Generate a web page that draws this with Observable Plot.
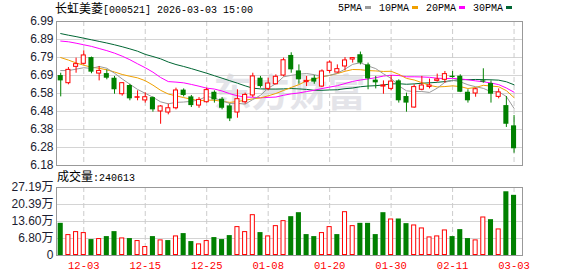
<!DOCTYPE html>
<html><head><meta charset="utf-8">
<script src="https://cdn.jsdelivr.net/npm/d3@7"></script>
<script src="https://cdn.jsdelivr.net/npm/@observablehq/plot@0.6"></script>
<style>
body{margin:0;background:#fff;}
#wrap{position:relative;width:578px;height:276px;overflow:hidden;font-family:"Liberation Sans",Arial,sans-serif;}
#wrap svg{position:absolute;left:0;}
.abs{position:absolute;white-space:nowrap;color:#000;}
.mono{font-family:"Liberation Mono","DejaVu Sans Mono",monospace;font-size:10px;}
.cjk{font-family:"Noto Sans CJK SC";font-size:12px;}
.sw{display:inline-block;width:6px;height:3px;margin-left:3px;margin-right:8px;vertical-align:middle;position:relative;top:-1px;}
</style></head><body><div id="wrap"></div>
<script>
const stockName = "长虹美菱";
const stockCode = "[000521]";
const stamp = "2026-03-03 15:00";
const volumeTitle = "成交量";
const lastVolume = "240613";
const watermark = "东方财富";

const dates = ["11-28","12-01","12-02","12-03","12-04","12-05","12-08","12-09","12-10","12-11",
"12-12","12-15","12-16","12-17","12-18","12-19","12-22","12-23","12-24","12-25",
"12-26","12-29","12-30","12-31","01-05","01-06","01-07","01-08","01-09","01-12",
"01-13","01-14","01-15","01-16","01-19","01-20","01-21","01-22","01-23","01-26",
"01-27","01-28","01-29","01-30","02-02","02-03","02-04","02-05","02-06","02-09",
"02-10","02-11","02-12","02-13","02-24","02-25","02-26","02-27","03-02","03-03"];
const labelDates = ["12-03","12-15","12-25","01-08","01-20","01-30","02-11","03-03"];

const open = [6.686,6.643,6.735,6.752,6.787,6.697,6.697,6.671,6.581,6.630,
6.561,6.546,6.562,6.484,6.478,6.502,6.604,6.566,6.517,6.536,
6.592,6.553,6.515,6.478,6.536,6.574,6.671,6.611,6.637,6.686,
6.799,6.712,6.649,6.671,6.624,6.712,6.703,6.737,6.776,6.803,
6.746,6.660,6.624,6.611,6.656,6.568,6.506,6.606,6.622,6.656,
6.662,6.682,6.682,6.592,6.585,6.656,6.641,6.566,6.517,6.403];
const high = [6.699,6.731,6.784,6.825,6.790,6.737,6.718,6.681,6.645,6.637,
6.600,6.589,6.566,6.517,6.525,6.615,6.611,6.574,6.562,6.615,
6.600,6.562,6.525,6.606,6.587,6.699,6.681,6.671,6.690,6.784,
6.814,6.746,6.681,6.686,6.718,6.769,6.746,6.787,6.787,6.818,
6.756,6.681,6.656,6.686,6.662,6.587,6.634,6.681,6.666,6.694,
6.709,6.709,6.690,6.606,6.615,6.724,6.656,6.611,6.568,6.461];
const low = [6.566,6.634,6.699,6.746,6.696,6.656,6.662,6.581,6.570,6.544,
6.544,6.531,6.480,6.412,6.465,6.493,6.566,6.506,6.502,6.531,
6.531,6.493,6.427,6.446,6.525,6.562,6.615,6.600,6.634,6.679,
6.699,6.637,6.624,6.637,6.619,6.699,6.699,6.712,6.756,6.746,
6.606,6.611,6.581,6.600,6.531,6.480,6.502,6.600,6.611,6.649,
6.643,6.671,6.590,6.531,6.564,6.643,6.531,6.555,6.394,6.249];
const close = [6.656,6.718,6.750,6.799,6.705,6.712,6.671,6.606,6.643,6.555,
6.564,6.564,6.493,6.512,6.502,6.602,6.574,6.517,6.549,6.604,
6.549,6.502,6.442,6.553,6.577,6.681,6.624,6.641,6.679,6.772,
6.718,6.662,6.656,6.649,6.709,6.759,6.722,6.771,6.784,6.756,
6.667,6.645,6.630,6.652,6.544,6.531,6.621,6.630,6.630,6.664,
6.694,6.675,6.592,6.544,6.609,6.649,6.581,6.591,6.412,6.274];

const ma5 = [6.714,6.714,6.722,6.730,6.726,6.737,6.727,6.699,6.667,6.637,
6.608,6.586,6.564,6.538,6.527,6.535,6.537,6.541,6.549,6.569,
6.559,6.544,6.529,6.530,6.525,6.551,6.575,6.615,6.640,6.679,
6.687,6.694,6.697,6.691,6.679,6.687,6.699,6.722,6.749,6.758,
6.740,6.725,6.696,6.670,6.628,6.600,6.596,6.596,6.591,6.615,
6.648,6.659,6.651,6.634,6.623,6.614,6.595,6.595,6.568,6.501];
const ma10 = [6.787,6.773,6.757,6.744,6.733,6.727,6.718,6.706,6.692,6.682,
6.673,6.657,6.632,6.603,6.582,6.572,6.562,6.553,6.544,6.548,
6.547,6.541,6.535,6.540,6.547,6.555,6.560,6.572,6.585,6.602,
6.619,6.635,6.656,6.666,6.679,6.687,6.697,6.710,6.720,6.719,
6.714,6.712,6.709,6.710,6.693,6.670,6.661,6.646,6.631,6.622,
6.624,6.628,6.624,6.613,6.619,6.631,6.627,6.623,6.601,6.562];
const ma20 = [6.880,6.876,6.868,6.859,6.850,6.838,6.826,6.812,6.795,6.775,
6.752,6.730,6.705,6.675,6.652,6.649,6.645,6.636,6.626,6.615,
6.610,6.599,6.584,6.572,6.565,6.564,6.561,6.563,6.565,6.575,
6.583,6.588,6.596,6.603,6.613,6.621,6.629,6.641,6.653,6.661,
6.667,6.674,6.683,6.688,6.686,6.679,6.679,6.678,6.676,6.671,
6.669,6.670,6.667,6.662,6.656,6.651,6.644,6.635,6.616,6.592];
const ma30 = [6.922,6.913,6.905,6.896,6.887,6.878,6.869,6.859,6.848,6.836,
6.823,6.805,6.793,6.780,6.762,6.748,6.737,6.725,6.712,6.699,
6.685,6.671,6.657,6.643,6.628,6.615,6.611,6.610,6.610,6.611,
6.613,6.611,6.608,6.603,6.603,6.605,6.606,6.612,6.616,6.623,
6.627,6.629,6.633,6.639,6.640,6.637,6.639,6.643,6.645,6.648,
6.652,6.658,6.663,6.663,6.664,6.663,6.662,6.660,6.651,6.634];

// volume in 万
const volume = [12.86,8.36,9.55,9.16,6.37,6.77,7.56,9.55,7.03,6.77,
5.97,3.58,7.56,6.24,5.97,7.83,8.76,5.57,4.64,5.97,
7.17,6.37,7.96,11.55,9.55,16.32,9.16,7.83,11.94,13.93,
15.53,17.12,8.36,7.56,9.16,11.55,8.36,17.52,11.94,12.86,
12.86,8.36,17.12,14.60,14.60,12.74,12.21,11.02,7.43,7.83,
10.22,7.56,10.35,6.77,6.24,15.40,14.33,10.62,25.48,24.06];
const volumeUp = [0,1,1,1,0,1,0,0,1,0, 1,1,0,1,0,1,0,0,1,1,
0,0,0,1,1,1,0,1,1,1, 0,0,0,0,1,1,0,1,1,0,
0,0,0,1,0,0,1,1,1,1, 1,0,0,0,1,1,0,1,0,0];

const priceTicks = [6.18,6.28125,6.3825,6.48375,6.585,6.68625,6.7875,6.88875,6.99];
const priceTickLabels = ["6.18","6.28","6.38","6.48","6.58","6.69","6.79","6.89","6.99"];
const volTicks = [0,6.7975,13.595,20.3925,27.19];
const volTickLabels = ["0","6.80万","13.60万","20.39万","27.19万"];

const maNames = ["5PMA","10PMA","20PMA","30PMA"];
const maColors = ["#9a9a9a","#f0a000","#ff00ff","#006633"];
const upColor = "#ff0000", downColor = "#008000";

// ---------- build ----------
const rows = dates.map((d,i)=>({i, date:d, open:open[i], high:high[i], low:low[i], close:close[i],
  ma5:ma5[i], ma10:ma10[i], ma20:ma20[i], ma30:ma30[i], vol:volume[i], vup:volumeUp[i]===1}));
const up = rows.filter(r=>r.close>=r.open), down = rows.filter(r=>r.close<r.open);
const vUp = rows.filter(r=>r.vup), vDown = rows.filter(r=>!r.vup);
const tickIdx = labelDates.map(l=>dates.indexOf(l));
const H = 0.33;
const x1 = d=>d.i-H, x2 = d=>d.i+H;
const xOpt = {domain:[-0.55,60.1], axis:null};
const grid = "#d4d4d4", frameC = "#999";
const font = "Liberation Sans, Arial, Noto Sans CJK SC, sans-serif";

const pricePlot = Plot.plot({
  width:578, height:170, marginLeft:56, marginRight:56, marginTop:21, marginBottom:5,
  x:xOpt, y:{domain:[priceTicks[0], priceTicks[priceTicks.length-1]], axis:null},
  style:{fontFamily:font, background:"transparent", overflow:"visible"},
  marks:[
    Plot.text([watermark], {text:d=>d, frameAnchor:"middle", dy:0, fontSize:38, fontWeight:"bold",
      fill:"#e4e4e9", fontFamily:"Noto Sans CJK SC", letterSpacing:"6px"}),
    Plot.ruleY(priceTicks.slice(1,-1), {stroke:grid}),
    Plot.ruleX(tickIdx, {stroke:"#cccccc", strokeDasharray:"5,3"}),
    Plot.line(rows, {x:"i", y:"ma30", stroke:maColors[3], strokeWidth:1}),
    Plot.line(rows, {x:"i", y:"ma20", stroke:maColors[2], strokeWidth:1}),
    Plot.line(rows, {x:"i", y:"ma10", stroke:maColors[1], strokeWidth:1}),
    Plot.line(rows, {x:"i", y:"ma5", stroke:maColors[0], strokeWidth:1}),
    Plot.ruleX(down, {x:"i", y1:"low", y2:"high", stroke:downColor}),
    Plot.ruleX(up, {x:"i", y1:"low", y2:"high", stroke:upColor}),
    Plot.rect(down, {x1, x2, y1:"open", y2:"close", fill:downColor}),
    Plot.rect(up, {x1, x2, y1:"open", y2:"close", fill:"white", stroke:upColor, insetLeft:0.5, insetRight:0.5}),
    Plot.frame({stroke:frameC}),
    Plot.axisY({ticks:priceTicks, tickFormat:d=>priceTickLabels[priceTicks.indexOf(d)], tickSize:0, tickPadding:3,
      fontSize:12, fill:"#1c1c30", label:null})
  ]
});

const volPlot = Plot.plot({
  width:578, height:106, marginLeft:56, marginRight:56, marginTop:17, marginBottom:21,
  x:xOpt, y:{domain:[0, volTicks[volTicks.length-1]], axis:null},
  style:{fontFamily:font, background:"transparent", overflow:"visible"},
  marks:[
    Plot.ruleY(volTicks.slice(1,-1), {stroke:grid}),
    Plot.ruleX(tickIdx, {stroke:"#cccccc", strokeDasharray:"5,3"}),
    Plot.rect(vDown, {x1, x2, y1:0, y2:"vol", fill:downColor}),
    Plot.rect(vUp, {x1, x2, y1:0, y2:"vol", fill:"white", stroke:upColor, inset:0.5}),
    Plot.frame({stroke:frameC}),
    Plot.axisY({ticks:volTicks, tickFormat:d=>volTickLabels[volTicks.indexOf(d)], tickSize:0, tickPadding:3,
      fontSize:12, fill:"#1c1c30", label:null}),
    Plot.axisX({ticks:tickIdx, tickFormat:i=>dates[i], tickSize:0, tickPadding:6, fill:upColor,
      fontFamily:"Liberation Mono, DejaVu Sans Mono, monospace", fontSize:10.5, label:null})
  ]
});

const wrap = document.getElementById("wrap");
pricePlot.style.top = "0px";
volPlot.style.top = "170px";
wrap.appendChild(pricePlot);
wrap.appendChild(volPlot);

const title = document.createElement("div");
title.className = "abs";
title.style.left = "55px"; title.style.top = "0px"; title.style.lineHeight = "15px";
title.innerHTML = `<span class="cjk">${stockName}</span><span class="mono" style="font-size:10px">${stockCode} ${stamp}</span>`;
wrap.appendChild(title);

const legend = document.createElement("div");
legend.className = "abs mono";
legend.style.left = "338px"; legend.style.top = "3px"; legend.style.lineHeight = "12px";
legend.innerHTML = maNames.map((n,k)=>`<span>${n}</span><span class="sw" style="background:${maColors[k]}"></span>`).join("");
wrap.appendChild(legend);

const vt = document.createElement("div");
vt.className = "abs";
vt.style.left = "57px"; vt.style.top = "168px"; vt.style.lineHeight = "16px";
vt.innerHTML = `<span class="cjk">${volumeTitle}</span><span class="mono">:${lastVolume}</span>`;
wrap.appendChild(vt);
</script></body></html>
